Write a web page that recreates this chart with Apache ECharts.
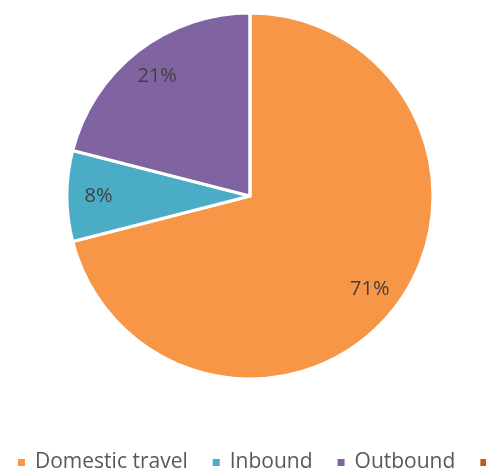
<!DOCTYPE html>
<html><head><meta charset="utf-8">
<script src="https://cdn.jsdelivr.net/npm/echarts@6/dist/echarts.min.js"></script>
<style>html,body{margin:0;padding:0;background:#fff}#c{width:486px;height:471px}</style>
</head><body><div id="c"></div>
<script>
const categories = ['Domestic travel', 'Inbound', 'Outbound', 'Other'];
const values = [71, 8, 21, 0];
const colors = ['#F79646', '#4BACC6', '#8064A2', '#C55A11'];

const chart = echarts.init(document.getElementById('c'));
const data = categories.map((n, i) => ({ name: n, value: values[i], itemStyle: { color: colors[i] } }));
const labelData = categories.map((n, i) => ({
  name: n, value: values[i],
  label: { show: values[i] > 0 }
}));
chart.setOption({
  animation: false,
  color: colors,
  legend: {
    left: 11, top: 447, width: 1200,
    itemWidth: 9, itemHeight: 9, itemGap: 23, icon: 'rect',
    textStyle: { fontSize: 21, color: '#595959', fontFamily: 'Open Sans', padding: [0, 0, 0, 4] },
    data: categories
  },
  series: [
    {
      type: 'pie', center: [250, 196], radius: 183, startAngle: 90, clockwise: true,
      label: { show: false }, labelLine: { show: false },
      itemStyle: { borderColor: '#fff', borderWidth: 3 },
      data: data
    },
    {
      type: 'pie', center: [250, 196], radius: [114, 183], startAngle: 90, clockwise: true, silent: true,
      itemStyle: { color: 'rgba(0,0,0,0)' },
      label: { show: true, position: 'inside', formatter: '{d}%', fontSize: 20, color: '#404040', fontFamily: 'Open Sans' },
      labelLine: { show: false },
      data: labelData
    }
  ]
});
</script></body></html>
